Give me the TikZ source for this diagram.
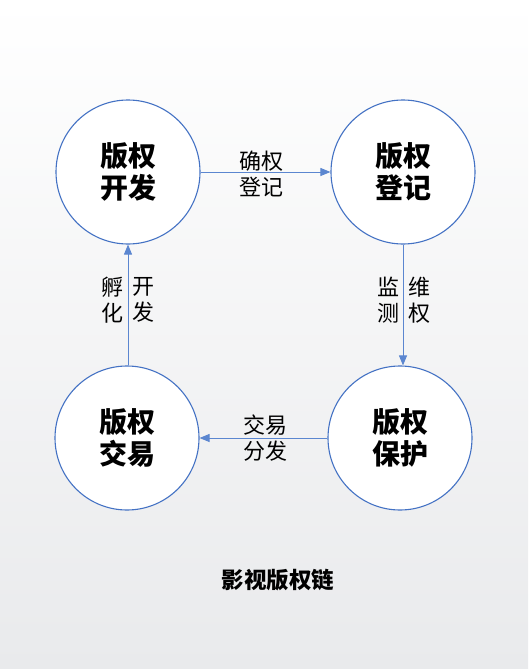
\documentclass[tikz,border=0pt]{standalone}
\usepackage{fontspec}
\setmainfont{Noto Sans CJK SC}
\usetikzlibrary{arrows.meta}
\definecolor{ringblue}{HTML}{4472C4}
\definecolor{lineblue}{HTML}{5B86D0}
\definecolor{bgbottom}{HTML}{E9EAEC}
\tikzset{
  stage/.style={circle, draw=ringblue, line width=1.1pt, fill=white, minimum size=144pt, inner sep=0pt,
    align=center, font=\fontsize{28}{32}\selectfont\bfseries},
  flow/.style={draw=lineblue, line width=0.9pt, -{Triangle[length=10pt,width=8pt]}},
  lab/.style={align=center, font=\fontsize{22}{26.5}\selectfont, inner sep=0pt},
  ttl/.style={font=\fontsize{22.5}{26}\selectfont\bfseries, inner sep=0pt}
}
\begin{document}
\begin{tikzpicture}[x=1pt,y=-1pt]
\shade[top color=white, bottom color=bgbottom] (0,0) rectangle (528,669);
\useasboundingbox (0,0) rectangle (528,669);
\node[stage] (dev) at (128,172) {版权\\开发};
\node[stage] (reg) at (403,172) {版权\\登记};
\node[stage] (pro) at (400,438) {版权\\保护};
\node[stage] (tra) at (127,438) {版权\\交易};
\draw[flow] (dev) -- (reg);
\draw[flow] (reg.south) -- (pro.north -| reg.south);
\draw[flow] (pro) -- (tra);
\draw[flow] (tra.north -| dev.south) -- (dev.south);
\node[lab] (l1) at (261,174) {确权\\登记};
\node[lab] (l2a) at (112,300) {孵\\化};
\node[lab] (l2b) at (143,300) {开\\发};
\node[lab] (l3a) at (388,300) {监\\测};
\node[lab] (l3b) at (419,300) {维\\权};
\node[lab] (l4) at (265,438) {交易\\分发};
\node[ttl] (title) at (278,580) {影视版权链};
\end{tikzpicture}
\end{document}
